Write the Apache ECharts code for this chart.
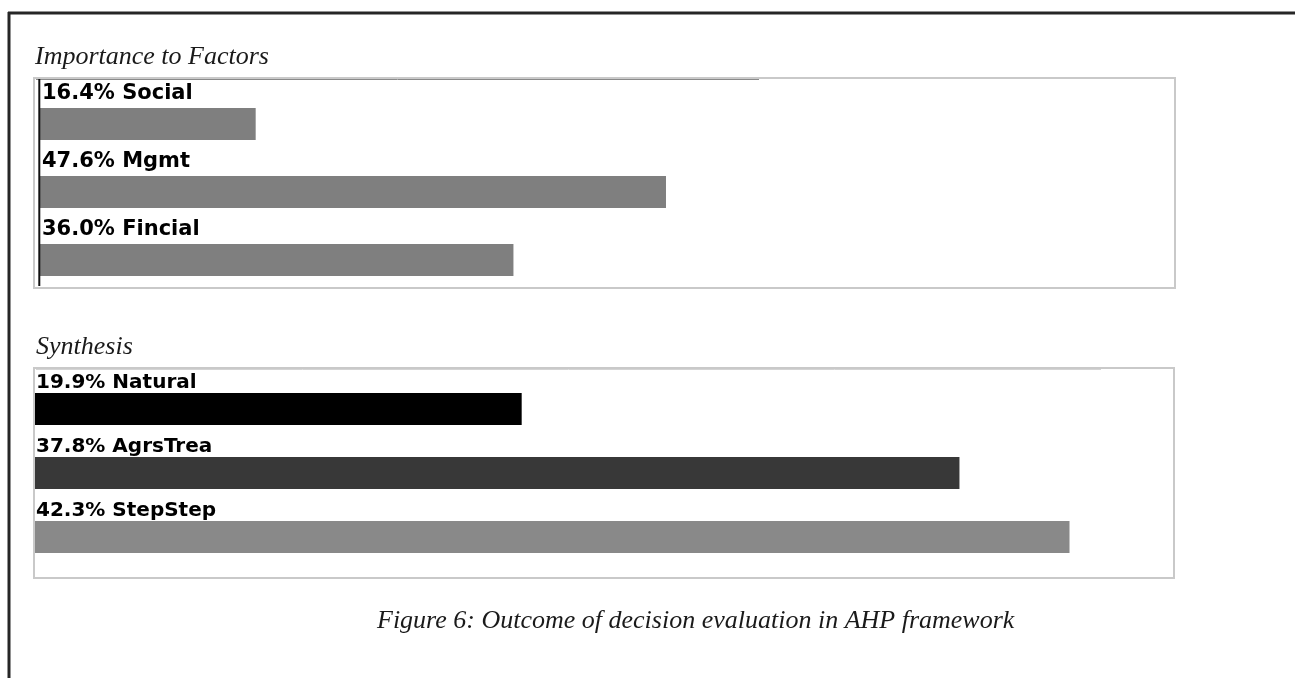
<!DOCTYPE html>
<html>
<head>
<meta charset="utf-8">
<title>AHP outcome</title>
<script src="https://cdn.jsdelivr.net/npm/echarts@6/dist/echarts.min.js"></script>
<style>
  html, body { margin: 0; padding: 0; background: #fff; }
  #chart { width: 1295px; height: 678px; }
</style>
</head>
<body>
<div id="chart"></div>
<script>
// Factor weights (top panel)
const factorNames = ['Social', 'Mgmt', 'Fincial'];
const factorShares = [16.4, 47.6, 36.0];

// Synthesised alternative scores (bottom panel)
const synthNames = ['Natural', 'AgrsTrea', 'StepStep'];
const synthShares = [19.9, 37.8, 42.3];

// Text
const factorTitle = 'Importance to Factors';
const synthTitle = 'Synthesis';
const captionText = 'Figure 6: Outcome of decision evaluation in AHP framework';

// Styling
const factorColor = '#7f7f7f';
const synthColors = ['#000000', '#383838', '#898989'];
const labelFont = '"DejaVu Sans", sans-serif';
const serifFont = '"Liberation Serif", "DejaVu Serif", serif';

const chart = echarts.init(document.getElementById('chart'), null, { renderer: 'canvas' });

function shareLabel(p) {
  return p.value.toFixed(1) + '% ' + p.name;
}

const option = {
  animation: false,
  backgroundColor: '#ffffff',
  grid: [
    { left: 40, top: 90, width: 1131, height: 204 },
    { left: 35, top: 377, width: 1125, height: 192 }
  ],
  xAxis: [
    { type: 'value', gridIndex: 0, min: 0, max: 86, show: false },
    { type: 'value', gridIndex: 1, min: 0, max: 46, show: false }
  ],
  yAxis: [
    { type: 'category', gridIndex: 0, data: factorNames, inverse: true, show: false },
    { type: 'category', gridIndex: 1, data: synthNames, inverse: true, show: false }
  ],
  series: [
    {
      type: 'bar',
      xAxisIndex: 0,
      yAxisIndex: 0,
      barWidth: 32,
      data: factorShares,
      itemStyle: { color: factorColor },
      label: {
        show: true,
        position: [2, -4],
        align: 'left',
        verticalAlign: 'bottom',
        color: '#000',
        fontFamily: labelFont,
        fontWeight: 'bold',
        fontSize: 21,
        formatter: shareLabel
      }
    },
    {
      type: 'bar',
      xAxisIndex: 1,
      yAxisIndex: 1,
      barWidth: 32,
      data: synthShares.map((v, i) => ({ value: v, itemStyle: { color: synthColors[i] } })),
      label: {
        show: true,
        position: [1, 0],
        align: 'left',
        verticalAlign: 'bottom',
        color: '#000',
        fontFamily: labelFont,
        fontWeight: 'bold',
        fontSize: 20,
        formatter: shareLabel
      }
    }
  ],
  graphic: [
    // outer frame (top and left edges)
    { type: 'line', shape: { x1: 8, y1: 13, x2: 1295, y2: 13 }, style: { stroke: '#262626', lineWidth: 3 }, z: 10 },
    { type: 'line', shape: { x1: 9, y1: 12, x2: 9, y2: 678 }, style: { stroke: '#262626', lineWidth: 3 }, z: 10 },

    // top panel box
    { type: 'rect', shape: { x: 34, y: 78, width: 1141, height: 210 }, style: { fill: null, stroke: '#c9c9c9', lineWidth: 2 }, z: 10 },
    { type: 'line', shape: { x1: 36, y1: 79.5, x2: 759, y2: 79.5 }, style: { stroke: '#8a8a8a', lineWidth: 1 }, z: 11 },
    { type: 'line', shape: { x1: 39.3, y1: 79, x2: 39.3, y2: 286 }, style: { stroke: '#111111', lineWidth: 2 }, z: 11 },

    // bottom panel box
    { type: 'rect', shape: { x: 34, y: 368, width: 1140, height: 210 }, style: { fill: null, stroke: '#c9c9c9', lineWidth: 2 }, z: 10 },
    { type: 'line', shape: { x1: 36, y1: 369.5, x2: 1101, y2: 369.5 }, style: { stroke: '#d4d4d4', lineWidth: 1 }, z: 11 },

    // panel titles and caption
    { type: 'text', left: 35, top: 44, style: { text: factorTitle, font: 'italic 26px ' + serifFont, fill: '#1a1a1a' } },
    { type: 'text', left: 36, top: 334, style: { text: synthTitle, font: 'italic 26px ' + serifFont, fill: '#1a1a1a' } },
    { type: 'text', left: 377, top: 608, style: { text: captionText, font: 'italic 26px ' + serifFont, fill: '#1a1a1a' } }
  ]
};

chart.setOption(option);
</script>
</body>
</html>
